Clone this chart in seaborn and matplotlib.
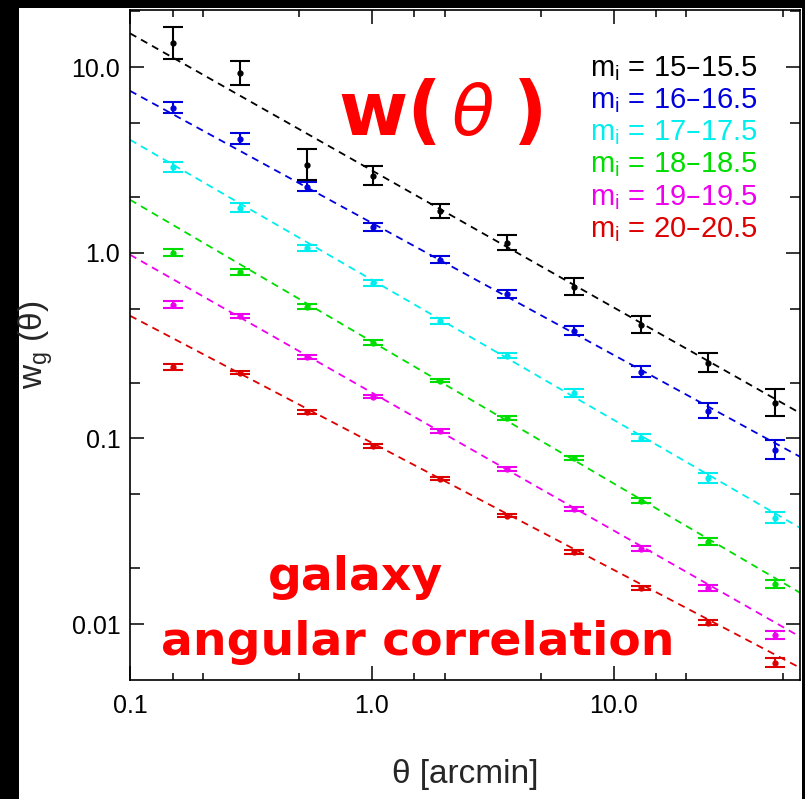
import numpy as np
import pandas as pd
import matplotlib
matplotlib.use("Agg")
import matplotlib.pyplot as plt
import seaborn as sns
from matplotlib.patches import Rectangle
from matplotlib.ticker import FixedLocator, NullFormatter

# ---------------- data ----------------
theta = [0.15, 0.284, 0.537, 1.015, 1.92, 3.63, 6.86, 12.97, 24.5, 46.4]

bins = ["15\u201315.5", "16\u201316.5", "17\u201317.5", "18\u201318.5", "19\u201319.5", "20\u201320.5"]
colors = ["#000000", "#0000DD", "#00EEEE", "#00DD00", "#EE00EE", "#DD0000"]

w_15 = [13.5, 9.32, 2.98, 2.60, 1.68, 1.13, 0.656, 0.41, 0.256, 0.156]
w_16 = [6.04, 4.11, 2.27, 1.38, 0.917, 0.601, 0.38, 0.229, 0.141, 0.087]
w_17 = [2.90, 1.75, 1.06, 0.689, 0.43, 0.279, 0.176, 0.101, 0.0614, 0.0374]
w_18 = [1.0, 0.79, 0.512, 0.328, 0.205, 0.129, 0.0787, 0.0462, 0.0278, 0.0165]
w_19 = [0.525, 0.458, 0.275, 0.168, 0.11, 0.0687, 0.0418, 0.0255, 0.0157, 0.00877]
w_20 = [0.243, 0.226, 0.139, 0.0914, 0.0607, 0.0383, 0.0245, 0.0157, 0.0102, 0.0062]

# half error bars in dex
err_15 = [0.085, 0.065, 0.085, 0.05, 0.04, 0.04, 0.045, 0.045, 0.05, 0.072]
err_16 = [0.03, 0.03, 0.025, 0.022, 0.02, 0.02, 0.025, 0.03, 0.04, 0.05]
err_17 = [0.025, 0.025, 0.018, 0.015, 0.015, 0.015, 0.02, 0.02, 0.027, 0.03]
err_18 = [0.018, 0.016, 0.014, 0.012, 0.01, 0.01, 0.012, 0.015, 0.018, 0.022]
err_19 = [0.018, 0.012, 0.012, 0.01, 0.01, 0.01, 0.01, 0.012, 0.017, 0.022]
err_20 = [0.016, 0.008, 0.01, 0.01, 0.008, 0.008, 0.01, 0.012, 0.014, 0.025]

# power-law fit lines: value at left and right edge of the plot
fit_theta = [0.1, 59.0]
fit_15 = [15.2, 0.137]
fit_16 = [7.45, 0.0797]
fit_17 = [4.06, 0.033]
fit_18 = [1.93, 0.01476]
fit_19 = [0.976, 0.00855]
fit_20 = [0.458, 0.00582]

xticks = [0.1, 1.0, 10.0]
xticklabels = ["0.1", "1.0", "10.0"]
yticks = [0.01, 0.1, 1.0, 10.0]
yticklabels = ["0.01", "0.1", "1.0", "10.0"]

W = [w_15, w_16, w_17, w_18, w_19, w_20]
E = [err_15, err_16, err_17, err_18, err_19, err_20]
F = [fit_15, fit_16, fit_17, fit_18, fit_19, fit_20]

# ---------------- figure ----------------
sns.set_style("ticks")
plt.rcParams["font.family"] = ["Liberation Sans", "DejaVu Sans"]

fig = plt.figure(figsize=(8.05, 7.99), dpi=100, facecolor="black")
fig.patches.append(Rectangle((19 / 805, 0), 783 / 805, 791 / 799,
                             transform=fig.transFigure, facecolor="white",
                             edgecolor="none", zorder=-10))
ax = fig.add_axes([130 / 805, 1 - 680 / 799, 670 / 805, 670 / 799])
ax.set_zorder(5)
ax.set_facecolor("white")

fit_df = pd.DataFrame({
    "theta": fit_theta * len(bins),
    "w": sum(F, []),
    "bin": [b for b in bins for _ in fit_theta],
})
sns.lineplot(data=fit_df, x="theta", y="w", hue="bin", palette=colors,
             legend=False, ax=ax, linewidth=1.3, linestyle=(0, (4, 3)),
             estimator=None, sort=False)

for w, e, c in zip(W, E, colors):
    w = np.array(w)
    e = np.array(e)
    lo = w - w / 10 ** e
    hi = w * 10 ** e - w
    ax.errorbar(theta, w, yerr=[lo, hi], fmt="o", color=c, ms=3.5,
                elinewidth=1.5, capsize=7.5, capthick=1.5, zorder=3)

ax.set_xscale("log")
ax.set_yscale("log")
ax.set_xlim(0.1, 59.0)
ax.set_ylim(0.005, 20.3)

ax.xaxis.set_major_locator(FixedLocator(xticks))
ax.set_xticklabels(xticklabels)
ax.xaxis.set_minor_locator(FixedLocator([0.15, 0.2, 0.5, 1.5, 2, 5, 15, 20, 50]))
ax.xaxis.set_minor_formatter(NullFormatter())
ax.yaxis.set_major_locator(FixedLocator(yticks))
ax.set_yticklabels(yticklabels)
ax.yaxis.set_minor_locator(FixedLocator([0.02, 0.05, 0.2, 0.5, 2, 5, 20]))
ax.yaxis.set_minor_formatter(NullFormatter())

ax.tick_params(which="both", direction="in", top=True, right=True,
               colors="black", width=1.1, labelsize=18)
ax.tick_params(which="major", length=10)
ax.tick_params(axis="y", which="minor", length=7)
ax.tick_params(axis="x", which="minor", length=5)
ax.tick_params(axis="y", pad=7)
ax.tick_params(axis="x", pad=10)
for s in ax.spines.values():
    s.set_visible(True)
    s.set_color("black")
    s.set_linewidth(1.2)

ax.set_xlabel("\u03b8 [arcmin]", fontsize=24)
ax.set_ylabel("w$_\\mathregular{g}$ (\u03b8)", fontsize=24)
ax.xaxis.set_label_coords(0.5, -0.118)
ax.yaxis.set_label_coords(-0.112, 0.5)


def ax_xy(px, py):
    return (px - 130) / 670, (680 - py) / 670


# title-like annotations
red = "#FF0000"
x, y = ax_xy(338, 135)
ax.text(x, y, "w(", transform=ax.transAxes, color=red, fontsize=54,
        fontweight="bold", family="DejaVu Sans", va="baseline", ha="left")
x, y = ax_xy(452, 135)
ax.text(x, y, "\u03b8", transform=ax.transAxes, color=red, fontsize=50,
        fontstyle="italic", family="DejaVu Sans", va="baseline", ha="left")
x, y = ax_xy(513, 135)
ax.text(x, y, ")", transform=ax.transAxes, color=red, fontsize=54,
        fontweight="bold", family="DejaVu Sans", va="baseline", ha="left")

x, y = ax_xy(355, 590)
ax.text(x, y, "galaxy", transform=ax.transAxes, color=red, fontsize=34,
        fontweight="bold", family="DejaVu Sans", va="baseline", ha="center")
x, y = ax_xy(418, 655)
ax.text(x, y, "angular correlation", transform=ax.transAxes, color=red,
        fontsize=34, fontweight="bold", family="DejaVu Sans",
        va="baseline", ha="center")

# legend as coloured text lines
for i, (b, c) in enumerate(zip(bins, colors)):
    x, y = ax_xy(590, 76 + 32.2 * i)
    ax.text(x, y, "m$_\\mathregular{i}$ = " + b, transform=ax.transAxes,
            color=c, fontsize=21, va="baseline", ha="left")

fig.savefig("out.png", dpi=100, facecolor=fig.get_facecolor())
